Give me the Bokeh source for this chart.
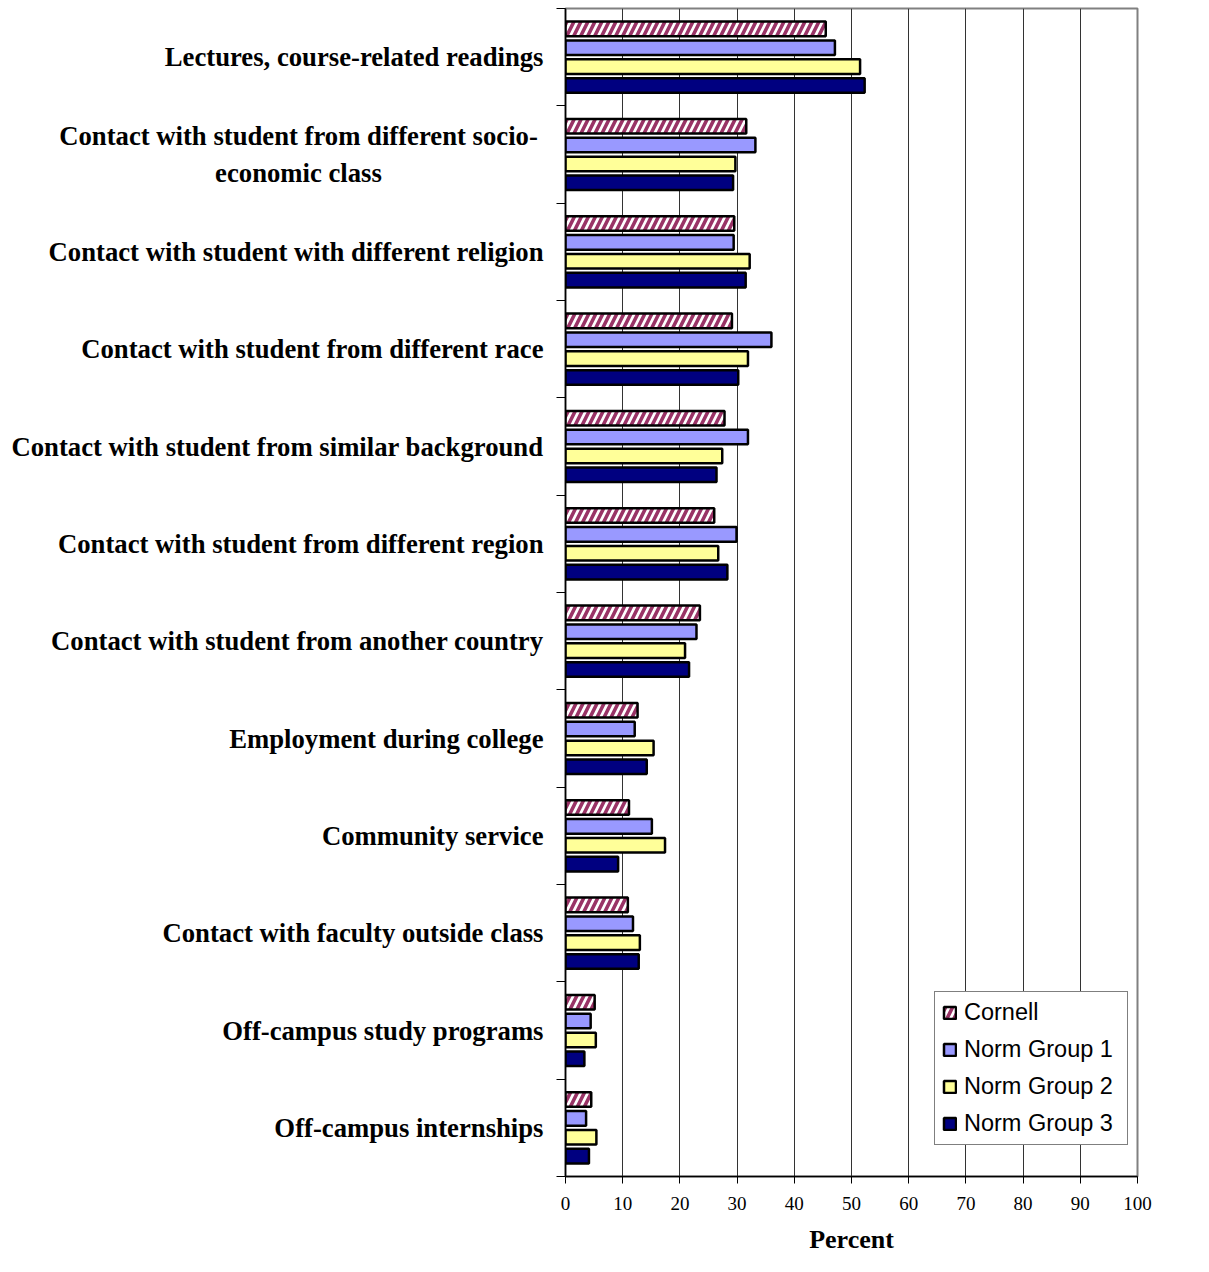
from bokeh.plotting import figure
from bokeh.layouts import row
from bokeh.models import (ColumnDataSource, FixedTicker, Legend, LegendItem, Range1d)
from bokeh.core.properties import value
from bokeh.transform import dodge
from bokeh.embed import file_html
from bokeh.resources import INLINE

# ---------------- data ----------------
categories = [
    "Lectures, course-related readings",
    "Contact with student from different socio-\neconomic class",
    "Contact with student with different religion",
    "Contact with student from different race",
    "Contact with student from similar background",
    "Contact with student from different region",
    "Contact with student from another country",
    "Employment during college",
    "Community service",
    "Contact with faculty outside class",
    "Off-campus study programs",
    "Off-campus internships",
]
cornell = [45.5, 31.6, 29.5, 29.1, 27.8, 26.0, 23.5, 12.6, 11.1, 10.9, 5.1, 4.5]
norm1 = [47.1, 33.2, 29.4, 36.0, 31.9, 29.9, 22.9, 12.1, 15.1, 11.8, 4.4, 3.6]
norm2 = [51.5, 29.7, 32.2, 31.9, 27.4, 26.7, 20.9, 15.4, 17.4, 13.0, 5.3, 5.4]
norm3 = [52.3, 29.3, 31.5, 30.2, 26.4, 28.3, 21.6, 14.2, 9.2, 12.8, 3.3, 4.1]
series_names = ["Cornell", "Norm Group 1", "Norm Group 2", "Norm Group 3"]
x_ticks = list(range(0, 101, 10))
x_axis_label = "Percent"

# ---------------- layout constants ----------------
W, H = 1193, 1256
LABEL_W = 545
TOP, BOTTOM = 8, 80
n = len(categories)
band_centers = [n - 0.5 - i for i in range(n)]
shared_y = Range1d(0, n)

# ---------------- label panel ----------------
lab = figure(width=LABEL_W, height=H, x_range=Range1d(0, LABEL_W), y_range=shared_y,
             output_backend="svg", toolbar_location=None,
             x_axis_location=None, y_axis_location=None,
             min_border_left=0, min_border_right=0,
             min_border_top=TOP, min_border_bottom=BOTTOM)
lab.outline_line_color = None
lab.grid.grid_line_color = None
lab.background_fill_color = "white"
lab.border_fill_color = "white"

single = [i for i, c in enumerate(categories) if "\n" not in c]
multi = [i for i, c in enumerate(categories) if "\n" in c]
lab_src1 = ColumnDataSource(dict(x=[LABEL_W - 2] * len(single),
                                 y=[band_centers[i] for i in single],
                                 t=[categories[i] for i in single]))
lab_src2 = ColumnDataSource(dict(x=[LABEL_W - 2] * len(multi),
                                 y=[band_centers[i] for i in multi],
                                 t=[categories[i] for i in multi]))
common = dict(text_font=value("Liberation Serif"), text_font_style="bold",
              text_font_size="26.7px", text_color="black", text_baseline="middle",
              text_line_height=1.24)
lab.text(x="x", y="y", text="t", source=lab_src1, text_align="right", **common)
lab.text(x="x", y="y", text="t", source=lab_src2, text_align="center",
         x_offset=-245, **common)

# ---------------- main chart ----------------
source = ColumnDataSource(dict(y=band_centers, c=cornell, n1=norm1, n2=norm2, n3=norm3))

p = figure(width=W - LABEL_W, height=H, output_backend="svg", toolbar_location=None,
           x_range=Range1d(0, 100), y_range=shared_y,
           min_border_left=20, min_border_right=56,
           min_border_top=TOP, min_border_bottom=BOTTOM)
p.background_fill_color = "white"
p.border_fill_color = "white"
p.outline_line_color = "#808080"
p.outline_line_width = 2

bar_h = 0.15
offsets = [0.291, 0.097, -0.097, -0.291]
fields = ["c", "n1", "n2", "n3"]
fills = ["white", "#9999FF", "#FFFF99", "#000080"]
renderers = []
for k in range(4):
    kw = dict(y=dodge("y", offsets[k]), right=fields[k], left=0, height=bar_h,
              source=source, fill_color=fills[k], line_color="black", line_width=2.5)
    if k == 0:
        kw.update(hatch_pattern="/", hatch_color="#993366", hatch_scale=14,
                  hatch_weight=3.6)
    renderers.append(p.hbar(**kw))

# x axis
p.xaxis.ticker = FixedTicker(ticks=x_ticks)
p.xaxis.axis_line_color = "black"
p.xaxis.axis_line_width = 1.5
p.xaxis.major_tick_line_color = "black"
p.xaxis.major_tick_out = 7
p.xaxis.major_tick_in = 0
p.xaxis.minor_tick_line_color = None
p.xaxis.major_label_standoff = 13
p.xaxis.major_label_text_font = "Liberation Serif"
p.xaxis.major_label_text_font_size = "19px"
p.xaxis.major_label_text_color = "black"
p.xaxis.axis_label = x_axis_label
p.xaxis.axis_label_text_font = "Liberation Serif"
p.xaxis.axis_label_text_font_style = "bold"
p.xaxis.axis_label_text_font_size = "26px"
p.xaxis.axis_label_standoff = 12
p.xaxis.axis_label_text_color = "black"

# y axis: only boundary ticks, no labels
p.yaxis.ticker = FixedTicker(ticks=[], minor_ticks=list(range(n + 1)))
p.yaxis.axis_line_color = "black"
p.yaxis.axis_line_width = 1.5
p.yaxis.minor_tick_out = 9
p.yaxis.minor_tick_in = 0
p.yaxis.minor_tick_line_color = "black"
p.yaxis.minor_tick_line_width = 1
p.yaxis.major_tick_line_color = None

p.ygrid.grid_line_color = None
p.xgrid.ticker = FixedTicker(ticks=x_ticks[1:-1])
p.xgrid.grid_line_color = "#333333"
p.xgrid.grid_line_width = 1

legend = Legend(items=[LegendItem(label=series_names[k], renderers=[renderers[k]])
                       for k in range(4)],
                location=(369, 31))
legend.label_text_font = "Liberation Sans"
legend.label_text_font_size = "23.5px"
legend.label_text_color = "black"
legend.label_standoff = 7
legend.label_width = 156
legend.glyph_width = 15
legend.glyph_height = 15
legend.label_height = 27
legend.spacing = 10
legend.padding = 7
legend.margin = 0
legend.border_line_color = "black"
legend.border_line_width = 1
legend.background_fill_color = "white"
legend.background_fill_alpha = 1
p.add_layout(legend)

layout = row(lab, p)
open("out.html", "w").write(file_html(layout, INLINE))
